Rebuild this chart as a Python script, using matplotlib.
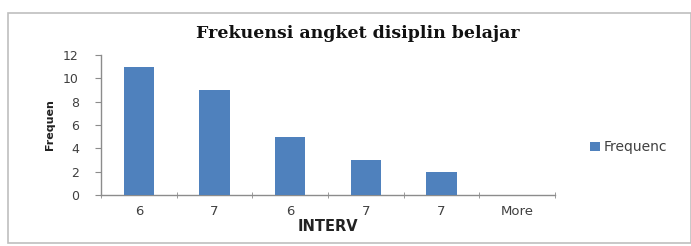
import matplotlib
matplotlib.use("Agg")
import matplotlib.pyplot as plt
import numpy as np
from matplotlib.patches import Rectangle

# data
categories = ["6", "7", "6", "7", "7", "More"]
frequency = [11, 9, 5, 3, 2, 0]
y_ticks = [0, 2, 4, 6, 8, 10, 12]
y_tick_labels = ["0", "2", "4", "6", "8", "10", "12"]

BAR_BLUE = "#4F81BD"
AXIS_GREY = "#8C8C8C"
TEXT_DARK = "#404040"

fig = plt.figure(figsize=(6.91, 2.46), dpi=100)

# outer chart frame (Excel style)
fig.patches.append(Rectangle((8 / 691, 3 / 246), 683 / 691, 230 / 246,
                             transform=fig.transFigure, fill=False,
                             edgecolor="#BFBFBF", linewidth=1.2))

ax = fig.add_axes([101 / 691, 51 / 246, 454 / 691, 140 / 246])

x = np.arange(len(categories))
ax.bar(x, frequency, width=0.4, color=BAR_BLUE, label="Frequenc", zorder=3)

ax.set_xlim(-0.5, len(categories) - 0.5)
ax.set_ylim(0, 12)

for side in ("top", "right"):
    ax.spines[side].set_visible(False)
for side in ("left", "bottom"):
    ax.spines[side].set_color(AXIS_GREY)
    ax.spines[side].set_linewidth(1.0)

# category labels in the middle, tick marks between groups
ax.set_xticks(x)
ax.set_xticklabels(categories, fontsize=9.5, color=TEXT_DARK, family="DejaVu Sans")
ax.tick_params(axis="x", which="major", length=0, pad=7)
ax.set_xticks(np.arange(-0.5, len(categories)), minor=True)
ax.tick_params(axis="x", which="minor", length=4, direction="inout", color=AXIS_GREY)

ax.set_yticks(y_ticks)
ax.set_yticklabels(y_tick_labels, fontsize=9, color=TEXT_DARK, family="DejaVu Sans")
ax.tick_params(axis="y", length=4, color=AXIS_GREY, pad=12)

ax.set_xlabel("INTERV", fontsize=10.5, fontweight="bold", color="#222222",
              family="DejaVu Sans", labelpad=1)
ax.set_ylabel("Frequen", fontsize=8, fontweight="bold", color="#222222",
              family="DejaVu Sans", labelpad=6)

fig.text(358 / 691, 1 - 33 / 246, "Frekuensi angket disiplin belajar",
         ha="center", va="center", fontsize=12.5, fontweight="bold",
         family="DejaVu Serif", color="#111111")

leg = ax.legend(loc="center left", bbox_to_anchor=(1.05, 0.34), frameon=False,
                handlelength=0.7, handleheight=0.7, handletextpad=0.3,
                prop={"family": "DejaVu Sans", "size": 10})
for t in leg.get_texts():
    t.set_color(TEXT_DARK)

fig.savefig("out.png", dpi=100, facecolor="white")
